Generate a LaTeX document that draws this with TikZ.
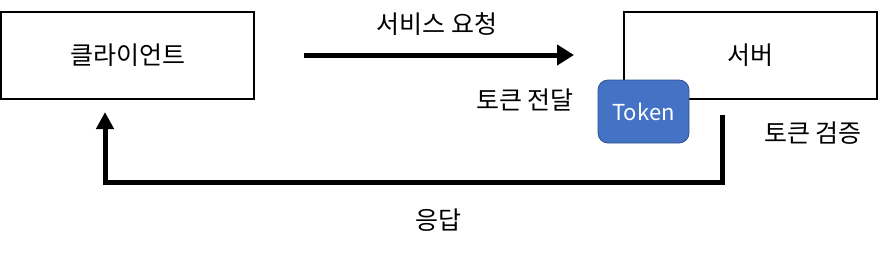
\documentclass[tikz,border=0pt]{standalone}
\usepackage{fontspec}
\setmainfont{Noto Sans CJK KR}
\usetikzlibrary{arrows.meta}
\definecolor{tokenblue}{HTML}{4472C4}
\definecolor{tokenedge}{HTML}{2F528F}
\begin{document}
\begin{tikzpicture}[
  x=1pt, y=-1pt,
  every node/.style={inner sep=0pt, font=\fontsize{25}{30}\selectfont},
  box/.style={draw, line width=1.2pt, minimum width=253pt, minimum height=87pt},
  flow/.style={line width=5pt}
]
  \useasboundingbox (0,0) rectangle (881,252);

  \node[box] (client) at (127.5,55.5) {클라이언트};
  \node[box] (server) at (750.5,55.5) {서버};
  \node[draw=tokenedge, fill=tokenblue, rounded corners=10pt, line width=0.8pt,
        minimum width=91pt, minimum height=63pt, text=white,
        font=\fontsize{22}{26}\selectfont] (token) at (643.5,111.5) {Token};

  \coordinate (reqA) at (304,55);
  \coordinate (reqB) at (574,55);
  \coordinate (resA) at (722,115);
  \coordinate (resB) at (105,112);

  \draw[flow, -{Triangle[length=17pt,width=20pt]}] (reqA) -- (reqB);
  \draw[flow, -{Triangle[length=17pt,width=17pt]}] (resA) |- (105,182) -- (resB);

  \node (reqlabel) at (437,24) {서비스 요청};
  \node (sendlabel) at (525,100) {토큰 전달};
  \node (checklabel) at (813,133) {토큰 검증};
  \node (reslabel) at (438,220) {응답};
\end{tikzpicture}
\end{document}
